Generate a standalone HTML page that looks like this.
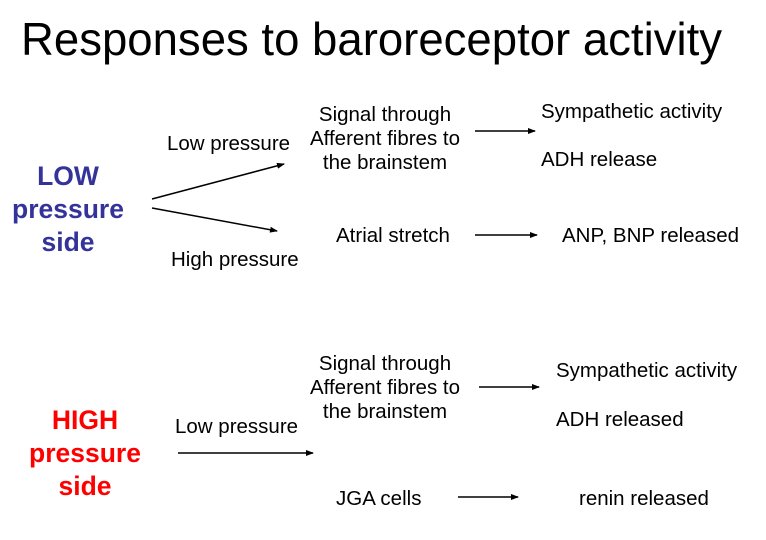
<!DOCTYPE html>
<html><head><meta charset="utf-8"><style>
html,body{margin:0;padding:0;background:#fff;}
svg{display:block;font-family:"Liberation Sans",Arial,sans-serif;}
</style></head><body>
<svg width="766" height="540" viewBox="0 0 766 540" xmlns="http://www.w3.org/2000/svg">
<defs><marker id="a" markerWidth="8" markerHeight="6" refX="7" refY="3" orient="auto" markerUnits="userSpaceOnUse"><path d="M0,0 L8,3 L0,6 z" fill="#000"/></marker></defs>
<text x="21" y="55" font-size="46" textLength="701" lengthAdjust="spacingAndGlyphs">Responses to baroreceptor activity</text>
<g font-size="20.5" fill="#000">
<text x="167" y="150">Low pressure</text>
<text x="385" y="121" text-anchor="middle">Signal through</text>
<text x="385" y="145" text-anchor="middle">Afferent fibres to</text>
<text x="385" y="169" text-anchor="middle">the brainstem</text>
<text x="541" y="118">Sympathetic activity</text>
<text x="541" y="166">ADH release</text>
<text x="336" y="242">Atrial stretch</text>
<text x="562" y="242">ANP, BNP released</text>
<text x="171" y="266">High pressure</text>
<text x="385" y="370" text-anchor="middle">Signal through</text>
<text x="385" y="394" text-anchor="middle">Afferent fibres to</text>
<text x="385" y="418" text-anchor="middle">the brainstem</text>
<text x="556" y="377">Sympathetic activity</text>
<text x="556" y="426">ADH released</text>
<text x="175" y="433">Low pressure</text>
<text x="336" y="505">JGA cells</text>
<text x="579" y="505">renin released</text>
</g>
<g font-size="26.5" font-weight="bold" text-anchor="middle">
<text x="68" y="185" fill="#333399">LOW</text>
<text x="68" y="218" fill="#333399">pressure</text>
<text x="68" y="251" fill="#333399">side</text>
<text x="85" y="429" fill="#ff0000">HIGH</text>
<text x="85" y="462" fill="#ff0000">pressure</text>
<text x="85" y="495" fill="#ff0000">side</text>
</g>
<g stroke="#000" stroke-width="1.5" marker-end="url(#a)">
<line x1="152" y1="199" x2="284" y2="164"/>
<line x1="152" y1="208" x2="277" y2="231"/>
<line x1="475" y1="131" x2="535" y2="131"/>
<line x1="475" y1="235" x2="537" y2="235"/>
<line x1="479" y1="387" x2="539" y2="387"/>
<line x1="178" y1="453" x2="313" y2="453"/>
<line x1="458" y1="497" x2="518" y2="497"/>
</g>
</svg>
</body></html>
